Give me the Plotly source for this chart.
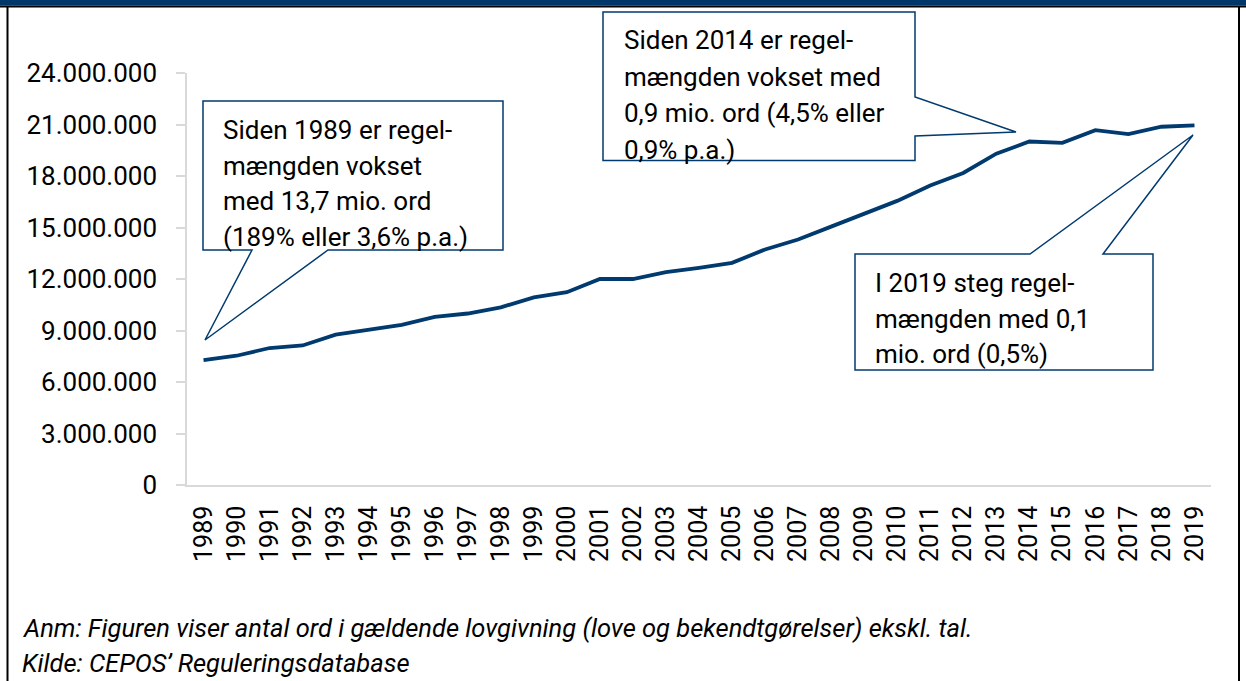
import plotly.graph_objects as go

# ---- data ----
years = [str(y) for y in range(1989, 2020)]
words = [7.28e6, 7.53e6, 7.98e6, 8.13e6, 8.76e6, 9.05e6, 9.33e6, 9.79e6, 9.99e6, 10.35e6,
         10.93e6, 11.23e6, 12.0e6, 12.0e6, 12.40e6, 12.65e6, 12.94e6, 13.72e6, 14.30e6, 15.05e6,
         15.80e6, 16.55e6, 17.45e6, 18.18e6, 19.30e6, 20.01e6, 19.93e6, 20.67e6, 20.44e6, 20.87e6,
         20.95e6]
y_tick_vals = [0, 3e6, 6e6, 9e6, 12e6, 15e6, 18e6, 21e6, 24e6]
y_tick_text = ["0", "3.000.000", "6.000.000", "9.000.000", "12.000.000", "15.000.000",
               "18.000.000", "21.000.000", "24.000.000"]
callout1_lines = ["Siden 1989 er regel-", "mængden vokset", "med 13,7 mio. ord", "(189% eller 3,6% p.a.)"]
callout2_lines = ["Siden 2014 er regel-", "mængden vokset med", "0,9 mio. ord (4,5% eller", "0,9% p.a.)"]
callout3_lines = ["I 2019 steg regel-", "mængden med 0,1", "mio. ord (0,5%)"]
footer_lines = [
    "Anm: Figuren viser antal ord i gældende lovgivning (love og bekendtgørelser) ekskl. tal.",
    "Kilde: CEPOS’ Reguleringsdatabase",
]

NAVY = "#003A6E"
GRID = "#D9D9D9"
FONT = "Roboto"

W, H = 1246, 681
L, R, T, B = 187, 35, 73, 196
PW, PH = W - L - R, H - T - B


def px(x):
    return (x - L) / PW


def py(y):
    return (H - B - y) / PH


def path(pts):
    return "M " + " L ".join(f"{px(a):.5f},{py(b):.5f}" for a, b in pts) + " Z"


fig = go.Figure()
fig.add_trace(go.Scatter(x=years, y=words, mode="lines",
                         line=dict(color=NAVY, width=3.8), hoverinfo="skip",
                         showlegend=False))

shapes = []
# frame: top band and borders
shapes.append(dict(type="rect", xref="paper", yref="paper", x0=px(0), x1=px(W), y0=py(0), y1=py(5.5),
                   fillcolor="#00376B", line=dict(width=0), layer="above"))
shapes.append(dict(type="line", xref="paper", yref="paper", x0=px(0), x1=px(W), y0=py(6.5), y1=py(6.5),
                   line=dict(color="black", width=2), layer="above"))
shapes.append(dict(type="line", xref="paper", yref="paper", x0=px(7.5), x1=px(7.5), y0=py(6), y1=py(H),
                   line=dict(color="black", width=2), layer="above"))
shapes.append(dict(type="line", xref="paper", yref="paper", x0=px(1239), x1=px(1239), y0=py(6), y1=py(H),
                   line=dict(color="black", width=2), layer="above"))

callouts = [
    [(203, 101), (503, 101), (503, 250), (328, 250), (205, 340), (252, 250), (203, 250)],
    [(603, 12), (915, 12), (915, 97), (1016, 132), (915, 136), (915, 160.5), (603, 160.5)],
    [(855, 254), (1030, 254), (1193, 135), (1103, 254), (1153, 254), (1153, 370), (855, 370)],
]
for pts in callouts:
    shapes.append(dict(type="path", xref="paper", yref="paper", path=path(pts),
                       fillcolor="white", line=dict(color=NAVY, width=1.5), layer="above"))

annotations = []
blocks = [
    (callout1_lines, 221, 130, 35.5),
    (callout2_lines, 622, 40, 36.5),
    (callout3_lines, 873, 283, 35.5),
]
for lines, tx, ty0, step in blocks:
    for i, t in enumerate(lines):
        annotations.append(dict(xref="paper", yref="paper", x=px(tx), y=py(ty0 + step * i), text=t,
                                xanchor="left", yanchor="middle", align="left", showarrow=False,
                                font=dict(family=FONT, size=26, color="black")))
for i, t in enumerate(footer_lines):
    annotations.append(dict(xref="paper", yref="paper", x=px(20), y=py(628 + 35 * i), text=f"<i>{t}</i>",
                            xanchor="left", yanchor="middle", align="left", showarrow=False,
                            font=dict(family=FONT, size=25.5, color="black")))

fig.update_layout(
    width=W, height=H,
    margin=dict(l=L, r=R, t=T, b=B, pad=0),
    paper_bgcolor="white", plot_bgcolor="white",
    font=dict(family=FONT, color="black"),
    shapes=shapes, annotations=annotations,
    xaxis=dict(type="category", range=[-0.5, 30.5], showgrid=False, zeroline=False,
               showline=True, linecolor=GRID, linewidth=1.5, ticks="", tickangle=-90,
               tickfont=dict(family=FONT, size=25, color="black"), ticklabelstandoff=9),
    yaxis=dict(range=[0, 24e6], showgrid=False, zeroline=False, showline=True,
               linecolor=GRID, linewidth=1.5, ticks="outside", ticklen=9, tickcolor=GRID,
               tickwidth=1.5, tickvals=y_tick_vals, ticktext=y_tick_text,
               tickfont=dict(family=FONT, size=26, color="black"), ticklabelstandoff=14),
)

fig.write_html("out.html", config={"displayModeBar": False},
               post_script="document.body.style.margin='0';document.body.style.overflow='hidden';")
